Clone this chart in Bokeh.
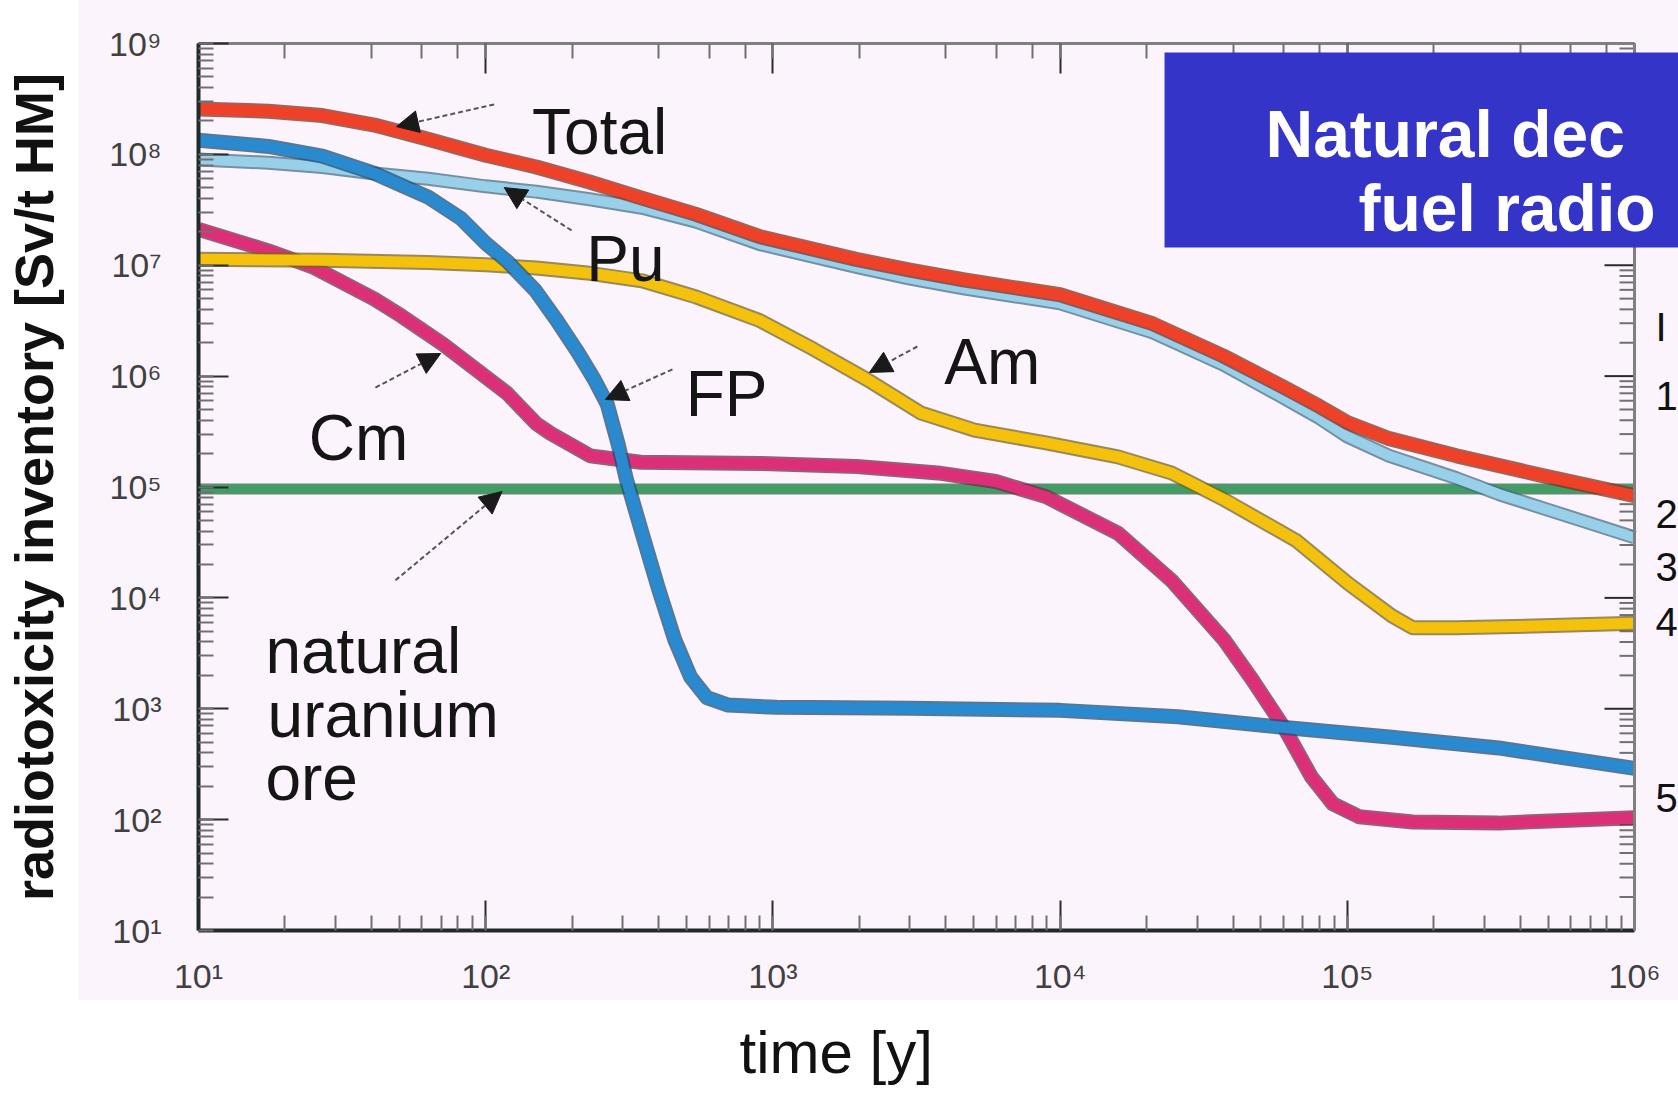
import math
from bokeh.plotting import figure
from bokeh.models import (Range1d, LogAxis, CustomJSTickFormatter, Label, Arrow,
                          NormalHead, BoxAnnotation, Span, Title)
from bokeh.embed import file_html
from bokeh.resources import INLINE

# ---------------- data (time [y], radiotoxicity [Sv/t HM]) ----------------
t_total = [10, 17.5, 27, 41, 63, 100, 150, 230, 350, 540, 900, 1950, 3000, 4600, 10000,
           21000, 37000, 60000, 80000, 100000, 140000, 240000, 470000, 1e6]
v_total = [2.57e8, 2.45e8, 2.24e8, 1.84e8, 1.37e8, 9.83e7, 7.70e7, 5.63e7, 4.03e7, 2.88e7,
           1.81e7, 1.13e7, 9.04e6, 7.40e6, 5.42e6, 2.97e6, 1.52e6, 7.96e5, 5.33e5, 3.81e5,
           2.73e5, 1.91e5, 1.28e5, 8.37e4]

t_pu = [10, 17.5, 27, 41, 63, 100, 150, 230, 350, 540, 900, 1950, 3000, 4600, 10000,
        21000, 37000, 60000, 80000, 100000, 140000, 240000, 340000, 470000, 1e6]
v_pu = [9.0e7, 8.41e7, 7.70e7, 6.73e7, 6.02e7, 5.15e7, 4.61e7, 3.94e7, 3.30e7, 2.47e7,
        1.55e7, 9.67e6, 7.57e6, 6.19e6, 4.53e6, 2.48e6, 1.27e6, 6.37e5, 4.17e5, 2.85e5,
        1.91e5, 1.20e5, 8.55e4, 6.55e4, 3.51e4]

t_fp = [10, 17.5, 27, 41, 63, 82, 100, 119, 149, 177, 210, 239, 265, 289, 309, 352, 400,
        455, 517, 589, 699, 1030, 3000, 10000, 25700, 60500, 143000, 336000, 1e6]
v_fp = [1.34e8, 1.18e8, 9.62e7, 6.73e7, 4.12e7, 2.64e7, 1.58e7, 1.08e7, 5.92e6, 3.17e6,
        1.62e6, 9.30e5, 5.57e5, 2.44e5, 1.17e5, 3.67e4, 1.20e4, 4.21e3, 1.93e3, 1.26e3,
        1.08e3, 1.03e3, 1.01e3, 967, 846, 677, 554, 443, 290]

t_am = [10, 27, 63, 100, 150, 230, 350, 540, 900, 1390, 2130, 3270, 5030, 8930, 15900,
        24400, 37400, 66500, 101000, 143000, 169000, 239000, 517000, 1e6]
v_am = [1.13e7, 1.11e7, 1.06e7, 1.01e7, 9.46e6, 8.46e6, 7.24e6, 5.18e6, 3.17e6, 1.74e6,
        9.30e5, 4.66e5, 3.26e5, 2.50e5, 1.87e5, 1.34e5, 7.65e4, 3.28e4, 1.34e4, 6.88e3,
        5.38e3, 5.38e3, 5.63e3, 5.89e3]

t_cm = [10, 17.5, 25, 41, 51, 71, 119, 150, 168, 231, 346, 904, 1960, 3750, 5970, 8930,
        15900, 24400, 37400, 46800, 60500, 75000, 89000, 110000, 169000, 336000, 1e6]
v_cm = [2.11e7, 1.35e7, 9.67e6, 4.95e6, 3.47e6, 1.94e6, 6.96e5, 3.73e5, 3.05e5, 1.91e5,
        1.67e5, 1.63e5, 1.53e5, 1.34e5, 1.12e5, 8.18e4, 3.83e4, 1.44e4, 4.12e3, 1.81e3,
        662, 243, 139, 106, 95.1, 93.0, 104]

t_ore = [10, 1e6]
v_ore = [9.6e4, 9.6e4]

# curve annotation texts and their anchors (data coordinates)
label_texts = ["Total", "Pu", "Am", "FP", "Cm", "natural", "uranium", "ore"]
label_t = [145, 224, 3954, 497, 24.2, 17.1, 17.4, 17.1]
label_v = [1.59e8, 1.13e7, 1.33e6, 6.97e5, 2.79e5, 3350, 887, 235]

# pointer arrows (start near label -> head on the curve)
arrow_t0 = [107, 199, 41.3, 447, 48.5, 3184]
arrow_v0 = [2.82e8, 2.06e7, 7.89e5, 1.15e6, 1.44e4, 1.85e6]
arrow_t1 = [48.9, 116, 69.7, 261, 114, 2168]
arrow_v1 = [1.78e8, 5.02e7, 1.60e6, 6.15e5, 9.1e4, 1.08e6]

title_lines = ["Natural dec", "fuel radio"]
edge_chars = ["I", "1", "2", "3", "4", "5"]
edge_v = [2.8e6, 6.55e5, 5.65e4, 1.88e4, 6.12e3, 158]

PINK = "#fcf4fc"
FONT = "Liberation Sans"
T_MIN, T_MAX = 10, 1e6          # drawn axis extent
PX_DEC = (1634 - 198) / 5.0     # pixels per decade on the time axis
T_VIEW = T_MAX * 10 ** (44 / PX_DEC)   # frame continues to the slide edge

p = figure(width=1678, height=1104, x_axis_type="log", y_axis_type="log",
           x_range=Range1d(T_MIN, T_VIEW), y_range=Range1d(10, 1e9),
           output_backend="svg", toolbar_location=None,
           min_border_left=198, min_border_right=0, min_border_top=43,
           min_border_bottom=174,
           background_fill_color=PINK, border_fill_color=None)
p.styles = {"background": ("linear-gradient(to right, #ffffff 78px, rgba(255,255,255,0) 78px), "
                           "linear-gradient(to bottom, %s 1000px, #ffffff 1000px)" % PINK)}
p.grid.visible = False
p.outline_line_color = None

fmt = CustomJSTickFormatter(code="""
const sup = ['\u2070','\u00b9','\u00b2','\u00b3','\u2074','\u2075','\u2076','\u2077','\u2078','\u2079'];
const e = Math.round(Math.log10(tick));
return '10' + String(e).split('').map(c => sup[+c]).join('');
""")
blank = CustomJSTickFormatter(code="return ' ';")

xb = p.xaxis[0]
yl = p.yaxis[0]
xt = LogAxis(formatter=blank)
p.add_layout(xt, "above")
for ax in (xb, yl, xt):
    ax.major_tick_in = 30
    ax.major_tick_out = 0
    ax.minor_tick_in = 15
    ax.minor_tick_out = 0
    ax.major_tick_line_color = "#2a2a2a"
    ax.major_tick_line_width = 2
    ax.minor_tick_line_color = "#707070"
    ax.minor_tick_line_width = 2
xb.bounds = (T_MIN, T_MAX * 1.0001)
xt.bounds = (T_MIN, T_MAX * 1.0001)
xt.major_label_text_font_size = "8px"
xt.major_label_text_alpha = 0
xt.major_label_standoff = 0
xt.axis_line_color = "#808080"
xt.axis_line_width = 3
for ax in (xb, yl):
    ax.formatter = fmt
    ax.major_label_text_font = FONT
    ax.major_label_text_font_size = "34px"
    ax.major_label_text_color = "#404040"
    ax.axis_line_color = "#1f2a2a"
    ax.axis_line_width = 4
xb.major_label_standoff = 26
yl.major_label_standoff = 37

yl.axis_label = "radiotoxicity inventory [Sv/t HM]"
yl.axis_label_text_font = FONT
yl.axis_label_text_font_size = "54px"
yl.axis_label_text_font_style = "bold"
yl.axis_label_text_color = "#111111"
yl.axis_label_standoff = 42

p.add_layout(Title(text="time [y]", align="left", offset=541, standoff=38,
                   text_font=FONT, text_font_size="60px", text_font_style="normal",
                   text_color="#111111"), "below")

# right-hand frame edge with inward ticks
p.add_layout(Span(location=T_MAX, dimension="height", line_color="#808080", line_width=3))
ytick_vals = [k * 10.0 ** d for d in range(1, 9) for k in range(1, 10)] + [1e9]
maj = [v for v in ytick_vals if abs(math.log10(v) - round(math.log10(v))) < 1e-9]
mnr = [v for v in ytick_vals if v not in maj]
p.segment(x0=[T_MAX] * len(maj), y0=maj, x1=[T_MAX * 10 ** (-30 / PX_DEC)] * len(maj), y1=maj,
          line_color="#2a2a2a", line_width=2)
p.segment(x0=[T_MAX] * len(mnr), y0=mnr, x1=[T_MAX * 10 ** (-15 / PX_DEC)] * len(mnr), y1=mnr,
          line_color="#707070", line_width=2)

# curves: (t, v, colour, edge colour, width)
curves = [
    (t_ore, v_ore, "#3f9e63", "#2b6e45", 7),
    (t_cm, v_cm, "#dc2f78", "#7a2a50", 11),
    (t_am, v_am, "#f4c20d", "#7a6420", 11),
    (t_pu, v_pu, "#98d0ea", "#4a6e86", 10),
    (t_total, v_total, "#ee4128", "#8a3020", 11),
    (t_fp, v_fp, "#2a8ad0", "#1d4f78", 11),
]
for t, v, col, edge, w in curves:
    p.line(t, v, line_color=edge, line_width=w + 4, line_alpha=0.75,
           line_join="round", line_cap="butt")
    p.line(t, v, line_color=col, line_width=w, line_join="round", line_cap="butt")

for txt, tx, vy in zip(label_texts, label_t, label_v):
    p.add_layout(Label(x=tx, y=vy, text=txt, text_font=FONT, text_font_size="64px",
                       text_color="#151515", text_align="left",
                       text_baseline="alphabetic"))

for x0, y0, x1, y1 in zip(arrow_t0, arrow_v0, arrow_t1, arrow_v1):
    p.add_layout(Arrow(end=NormalHead(size=22, fill_color="#1a1a1a", line_color="#1a1a1a"),
                       x_start=x0, y_start=y0, x_end=x1, y_end=y1,
                       line_color="#555555", line_width=2, line_dash="5 3"))

# blue title box (cut by the slide edge)
p.add_layout(BoxAnnotation(left=23100, right=T_VIEW * 2, bottom=1.445e7, top=8.3e8,
                           fill_color="#3434c8", fill_alpha=1.0, line_alpha=0,
                           level="annotation"))
p.add_layout(Label(x=51900, y=1.54e8, text=title_lines[0], text_font=FONT,
                   text_font_size="66px", text_font_style="bold", text_color="white",
                   text_align="left", text_baseline="alphabetic", level="overlay"))
p.add_layout(Label(x=109400, y=3.25e7, text=title_lines[1], text_font=FONT,
                   text_font_size="66px", text_font_style="bold", text_color="white",
                   text_align="left", text_baseline="alphabetic", level="overlay"))

for ch, vy in zip(edge_chars, edge_v):
    p.add_layout(Label(x=1.183e6, y=vy, text=ch, text_font=FONT, text_font_size="40px",
                       text_color="#111111", text_align="left", text_baseline="middle"))

open("out.html", "w", encoding="utf-8").write(file_html(p, INLINE))
